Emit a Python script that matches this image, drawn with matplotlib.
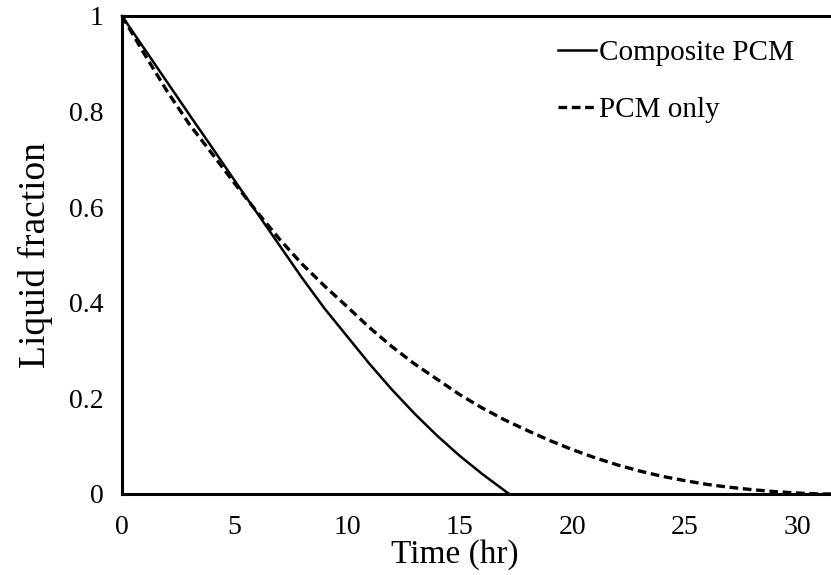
import matplotlib.pyplot as plt

plt.rcParams['font.family'] = ['Liberation Serif', 'DejaVu Serif']

# Liquid fraction vs time (hr)
t_comp = [0, 1, 2, 3, 4, 5, 6, 7, 8, 9, 10, 11, 12, 13, 14, 15, 16, 17, 17.2]
lf_comp = [1.0, 0.931, 0.862, 0.793, 0.725, 0.656, 0.588, 0.52, 0.452, 0.388,
           0.33, 0.272, 0.218, 0.168, 0.122, 0.08, 0.042, 0.007, 0.0]

t_pcm = [0, 1, 2, 3, 4, 5, 6, 7, 8, 9, 10, 11, 12, 13, 14, 15, 16, 17, 18, 19,
         20, 21, 22, 23, 24, 25, 26, 27, 28, 29, 30, 31, 31.5]
lf_pcm = [1.0, 0.92, 0.843, 0.773, 0.712, 0.65, 0.59, 0.533, 0.481, 0.435,
          0.392, 0.348, 0.308, 0.272, 0.24, 0.208, 0.18, 0.155, 0.133, 0.112,
          0.093, 0.076, 0.061, 0.048, 0.037, 0.028, 0.02, 0.014, 0.009, 0.005,
          0.002, 0.0, 0.0]

fig = plt.figure(figsize=(8.31, 5.75), dpi=100)
ax = fig.add_axes([0.1468, 0.1409, 0.8532, 0.8313])

ax.plot(t_comp, lf_comp, 'k-', lw=1.8, label='Composite PCM', clip_on=False)
ax.plot(t_pcm, lf_pcm, color='k', lw=2.4, ls=(0, (2.6, 1.4)), label='PCM only')

ax.set_xlim(0, 31.5)
ax.set_ylim(0, 1)
ax.set_xticks([0, 5, 10, 15, 20, 25, 30])
ax.set_yticks([0, 0.2, 0.4, 0.6, 0.8, 1])
ax.set_yticklabels(['0', '0.2', '0.4', '0.6', '0.8', '1'])
ax.tick_params(length=0, labelsize=20)
ax.tick_params(axis='y', pad=13)
ax.tick_params(axis='x', pad=15)

for s in ['left', 'bottom', 'top']:
    ax.spines[s].set_linewidth(2.2)
ax.spines['right'].set_visible(False)

ax.set_xlabel('Time (hr)', fontsize=24)
ax.xaxis.set_label_coords((455 - 122) / 709, -0.094)
ax.set_ylabel('Liquid fraction', fontsize=27, labelpad=12)

ax.legend(loc='upper left', bbox_to_anchor=(558 / 831, 1 - 40 / 575),
          bbox_transform=fig.transFigure, frameon=False, fontsize=21,
          handlelength=1.3, handletextpad=0.1, labelspacing=1.05,
          borderpad=0, borderaxespad=0)

fig.savefig('out.png', dpi=100)
